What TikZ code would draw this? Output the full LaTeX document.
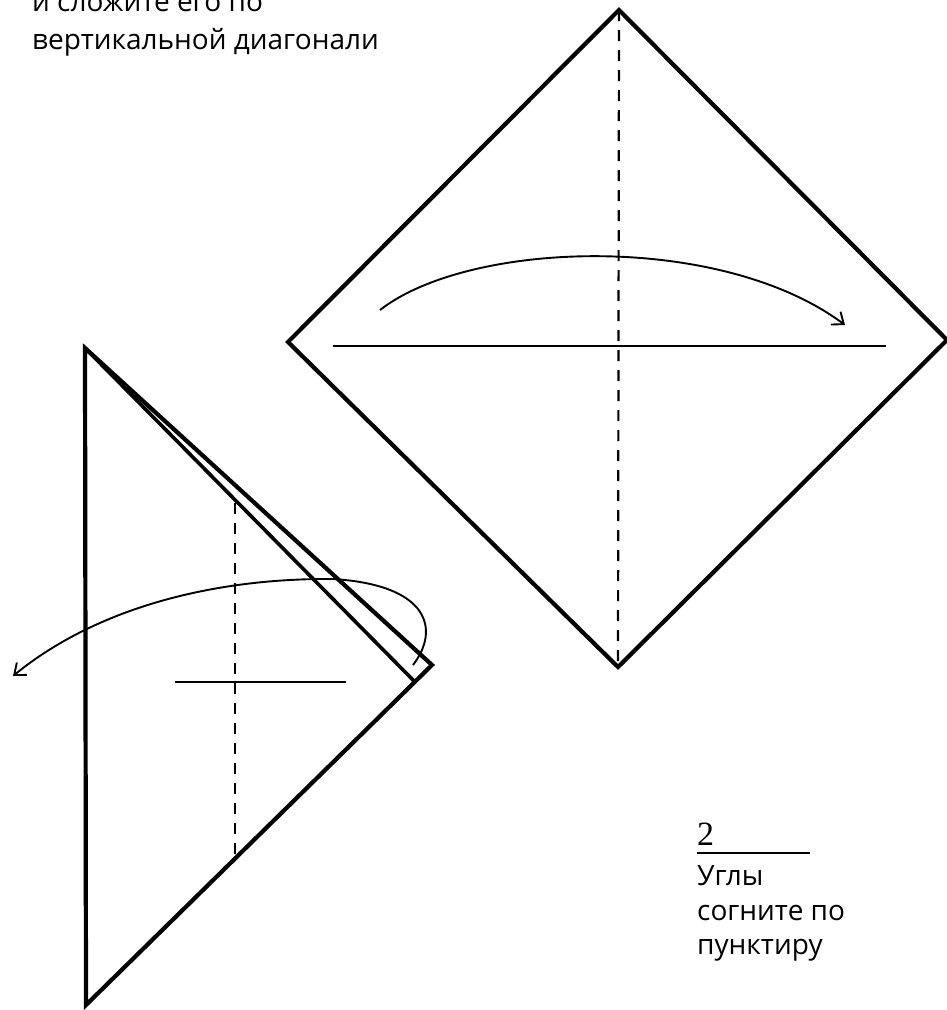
\documentclass[tikz,border=0pt]{standalone}
\usepackage{fontspec}
\setmainfont{Open Sans}
\newfontfamily\stepnumfont{Liberation Serif}
\usetikzlibrary{arrows.meta}
\begin{document}
\begin{tikzpicture}[x=1pt,y=-1pt,
  edge/.style={line width=4.2pt, line join=miter, line cap=butt},
  foldline/.style={line width=2.2pt, dash pattern=on 11pt off 9pt},
  guide/.style={line width=1.8pt},
  move/.style={line width=1.9pt, -{Straight Barb[length=10pt,width=16pt,line width=1.9pt]}},
  lbl/.style={font=\fontsize{28}{32}\selectfont, anchor=base west, inner sep=0pt}]
\clip (0,0) rectangle (947,1010);
\fill[white] (0,0) rectangle (947,1010);

% ---- top-left caption (cut off at top, as in the reference)
\node[lbl] (cap1) at (32,11) {и сложите его по};
\node[lbl] (cap2) at (32,49) {вертикальной диагонали};

% ---- diamond
\coordinate (dT) at (619,10);
\coordinate (dL) at (288,342);
\coordinate (dR) at (947,340);
\coordinate (dB) at (618,667);
\draw[edge] (dT) -- (dR) -- (dB) -- (dL) -- cycle;
\draw[foldline] (dT) -- (dB);
\coordinate (hL) at (333,346);
\coordinate (hR) at (886,346);
\draw[guide] (hL) -- (hR);
\coordinate (a1s) at (380,310);
\coordinate (a1e) at (845,325);
\draw[move] (a1s) .. controls (470,240) and (720,232) .. (a1e);

% ---- triangle
\coordinate (tA) at (85,348);
\coordinate (tC) at (432,665);
\coordinate (tD) at (86,1005);
\coordinate (tE) at (414,681);
\draw[edge] (tA) -- (tC) -- (tD) -- cycle;
\draw[line width=3.6pt] (tA) -- (tE);
\coordinate (vT) at (235,503);
\coordinate (vB) at (235,856);
\draw[foldline] (vT) -- (vB);
\coordinate (sL) at (175,682);
\coordinate (sR) at (346,682);
\draw[guide] (sL) -- (sR);
\coordinate (a2s) at (413,665);
\coordinate (a2m) at (333,579);
\coordinate (a2e) at (13,676);
\draw[move] (a2s) .. controls (440,630) and (430,585) .. (a2m)
   .. controls (220,578) and (100,605) .. (a2e);

% ---- step 2 caption
\node[font=\fontsize{34}{38}\selectfont\stepnumfont, anchor=base west, inner sep=0pt] (num) at (697,845) {2};
\coordinate (uL) at (697,853);
\coordinate (uR) at (810,853);
\draw[line width=1.8pt] (uL) -- (uR);
\node[lbl] (t1) at (697,885) {Углы};
\node[lbl] (t2) at (697,920) {согните по};
\node[lbl] (t3) at (697,954) {пунктиру};
\end{tikzpicture}
\end{document}
